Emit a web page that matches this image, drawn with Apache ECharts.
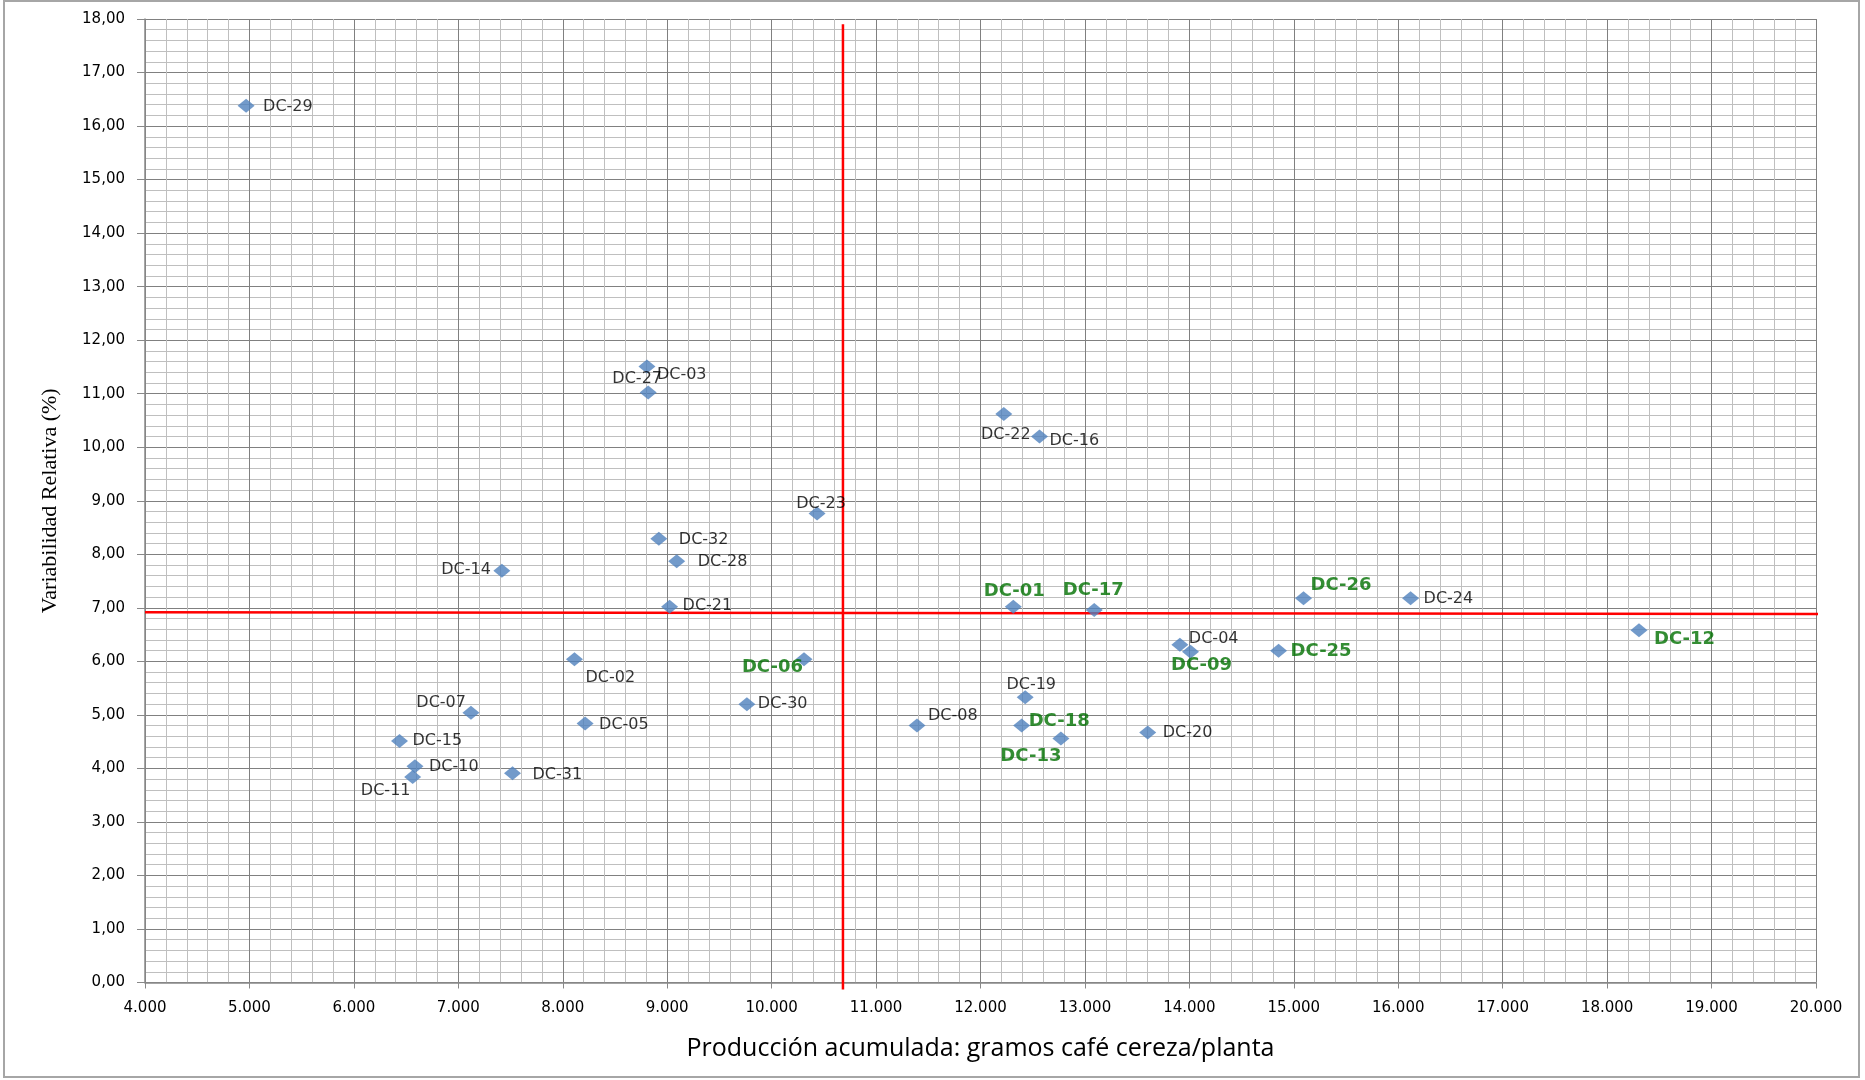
<!DOCTYPE html>
<html style="height: 100%">
<head>
<meta charset="utf-8">
<script src="https://cdn.jsdelivr.net/npm/echarts@6/dist/echarts.min.js"></script>
</head>
<body style="height: 100%; margin: 0; background: #fff">
<div id="container" style="width: 1865px; height: 1080px"></div>
<script type="text/javascript">
// clones DC-xx : produccion acumulada (g cafe cereza/planta) vs variabilidad relativa (%)
var clones = ['DC-01','DC-02','DC-03','DC-04','DC-05','DC-06','DC-07','DC-08','DC-09','DC-10','DC-11',
              'DC-12','DC-13','DC-14','DC-15','DC-16','DC-17','DC-18','DC-19','DC-20','DC-21','DC-22',
              'DC-23','DC-24','DC-25','DC-26','DC-27','DC-28','DC-29','DC-30','DC-31','DC-32'];
var produccion = [12314, 8112, 8806, 13909, 8214, 10310, 7121, 11392, 14011, 6585, 6563,
                  18305, 12770, 7417, 6437, 12565, 13089, 12394, 12428, 13601, 9023, 12223,
                  10435, 16118, 14854, 15093, 8818, 9091, 4968, 9763, 7519, 8920];
var variabilidad = [7.02, 6.04, 11.51, 6.31, 4.84, 6.04, 5.04, 4.80, 6.18, 4.04, 3.84,
                    6.58, 4.56, 7.69, 4.51, 10.20, 6.96, 4.80, 5.33, 4.67, 7.02, 10.62,
                    8.76, 7.18, 6.20, 7.18, 11.02, 7.87, 16.38, 5.20, 3.91, 8.29];
var destacados = ['DC-01','DC-06','DC-09','DC-12','DC-13','DC-17','DC-18','DC-25','DC-26'];

// lineas de referencia (promedios)
var mediaX = [[10683, 17.9], [10683, -0.13]];
var mediaY = [[4000, 6.916], [20124, 6.885]];

// donde va cada etiqueta: [align, dx, dy]
var etiquetas = {
    'DC-01': ['center', 1, -15], 'DC-02': ['left', 11, 19], 'DC-03': ['left', 10, 8],
    'DC-04': ['left', 9, -6], 'DC-05': ['left', 14, 1], 'DC-06': ['right', -1, 8],
    'DC-07': ['right', -5, -10], 'DC-08': ['left', 11, -10], 'DC-09': ['center', 11, 14],
    'DC-10': ['left', 14, 1], 'DC-11': ['center', -27, 14], 'DC-12': ['left', 15, 9],
    'DC-13': ['center', -30, 18], 'DC-14': ['right', -11, -1], 'DC-15': ['left', 13, 0],
    'DC-16': ['left', 10, 4], 'DC-17': ['center', -1, -20], 'DC-18': ['left', 7, -4],
    'DC-19': ['center', 6, -12], 'DC-20': ['left', 15, 0], 'DC-21': ['left', 13, -1],
    'DC-22': ['center', 2, 21], 'DC-23': ['center', 4, -10], 'DC-24': ['left', 13, 1],
    'DC-25': ['left', 12, 1], 'DC-26': ['left', 7, -13], 'DC-27': ['center', -11, -14],
    'DC-28': ['left', 21, 1], 'DC-29': ['left', 17, 1], 'DC-30': ['left', 11, 0],
    'DC-31': ['left', 20, 2], 'DC-32': ['left', 20, 1]
};

var puntos = clones.map(function (c, i) {
    var e = etiquetas[c];
    var verde = destacados.indexOf(c) >= 0;
    return {
        name: c,
        value: [produccion[i], variabilidad[i]],
        label: {
            show: true,
            formatter: '{b}',
            position: 'inside',
            align: e[0],
            verticalAlign: 'middle',
            offset: [e[1], e[2]],
            color: verde ? '#007000' : '#000',
            fontWeight: verde ? 'bold' : 'normal',
            fontSize: verde ? 18 : 16,
            fontFamily: 'DejaVu Sans'
        }
    };
});

var dom = document.getElementById('container');
var myChart = echarts.init(dom);
var option = {
    backgroundColor: '#fff',
    animation: false,
    grid: { left: 145, right: 49, top: 19, bottom: 97.5 },
    graphic: [{
        type: 'rect',
        shape: { x: 4, y: 1, width: 1855, height: 1076 },
        style: { fill: 'none', stroke: '#a6a6a6', lineWidth: 2 },
        silent: true
    }],
    xAxis: {
        type: 'value',
        min: 4000,
        max: 20000,
        interval: 1000,
        name: 'Producción acumulada: gramos café cereza/planta',
        nameLocation: 'middle',
        nameGap: 54,
        nameTextStyle: { fontSize: 25, fontFamily: 'Open Sans', color: '#000' },
        axisLine: { onZero: false, lineStyle: { color: '#888', width: 1.5 } },
        axisTick: { show: true, length: 6, lineStyle: { color: '#888' } },
        axisLabel: {
            margin: 18, fontSize: 15, fontFamily: 'DejaVu Sans', color: '#000',
            formatter: function (v) { return v.toLocaleString('de-DE', { minimumFractionDigits: 0 }).replace(/,/g, '.'); }
        },
        splitLine: { show: true, lineStyle: { color: '#808080', width: 1 } },
        minorTick: { show: false, splitNumber: 5 },
        minorSplitLine: { show: true, lineStyle: { color: '#bfbfbf', width: 1 } }
    },
    yAxis: {
        type: 'value',
        min: 0,
        max: 18,
        interval: 1,
        name: 'Variabilidad Relativa (%)',
        nameLocation: 'middle',
        nameGap: 84,
        nameRotate: 90,
        nameTextStyle: { fontSize: 22, fontFamily: 'Liberation Sans Narrow', color: '#000' },
        axisLine: { show: true, onZero: false, lineStyle: { color: '#888', width: 1.5 } },
        axisTick: { show: true, length: 8, lineStyle: { color: '#888' } },
        axisLabel: {
            margin: 20, fontSize: 15, fontFamily: 'DejaVu Sans', color: '#000',
            formatter: function (v) { return v.toFixed(2).replace('.', ','); }
        },
        splitLine: { show: true, lineStyle: { color: '#808080', width: 1 } },
        minorTick: { show: false, splitNumber: 5 },
        minorSplitLine: { show: true, lineStyle: { color: '#bfbfbf', width: 1 } }
    },
    series: [
        {
            name: 'mediaX',
            type: 'line',
            data: mediaX,
            clip: false,
            symbol: 'none',
            lineStyle: { color: '#ff0000', width: 2.5 },
            silent: true,
            z: 3
        },
        {
            name: 'mediaY',
            type: 'line',
            data: mediaY,
            clip: false,
            symbol: 'none',
            lineStyle: { color: '#ff0000', width: 2.5 },
            silent: true,
            z: 3
        },
        {
            name: 'clones',
            type: 'scatter',
            symbol: 'diamond',
            symbolSize: [17, 14],
            itemStyle: { color: '#4f81bd' },
            data: puntos,
            z: 5
        }
    ]
};
myChart.setOption(option, true);
</script>
</body>
</html>
